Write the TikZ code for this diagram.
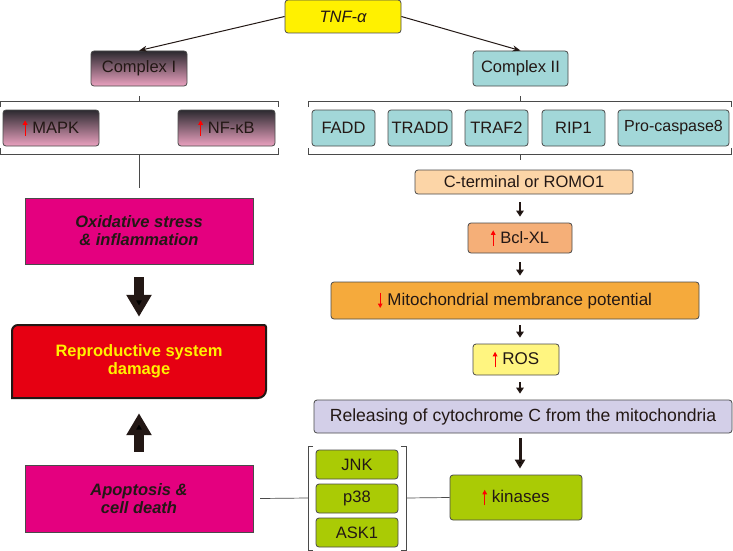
\documentclass[tikz,border=0pt]{standalone}
\usepackage{fontspec}
\setmainfont{Liberation Sans}
\usetikzlibrary{arrows.meta}
\definecolor{txt}{HTML}{231815}
\definecolor{bord}{HTML}{4A4A4A}
\definecolor{tnfy}{HTML}{FFF100}
\definecolor{teal}{HTML}{A2D7D8}
\definecolor{gtop}{HTML}{2C2A30}
\definecolor{gbot}{HTML}{EBA2C0}
\definecolor{mag}{HTML}{E4007F}
\definecolor{repred}{HTML}{E60012}
\definecolor{cterm}{HTML}{FCD5A7}
\definecolor{bcl}{HTML}{F5AF78}
\definecolor{mito}{HTML}{F5AA3C}
\definecolor{ros}{HTML}{FFF580}
\definecolor{rel}{HTML}{D3CFE8}
\definecolor{grn}{HTML}{AACB05}
\newcommand{\fs}{\fontsize{16.5}{18}\selectfont}
\newcommand{\upr}{\tikz[baseline=0pt]\draw[red,line width=1.1pt,-{Triangle[length=4.5pt,width=4.5pt]}] (0pt,-2.5pt)--(0pt,13pt);\hspace{5pt}}
\newcommand{\dnr}{\tikz[baseline=0pt]\draw[red,line width=1.1pt,-{Triangle[length=4.5pt,width=4.5pt]}] (0pt,13pt)--(0pt,-2.5pt);\hspace{5pt}}
\tikzset{
  box/.style={draw=bord, line width=0.8pt, rounded corners=3pt, inner sep=0pt, align=center, font=\fs, text=txt},
  grad/.style={box, top color=gtop, bottom color=gbot},
  tealbox/.style={box, fill=teal, minimum height=36pt},
  pinkbox/.style={box, rounded corners=0pt, fill=mag, minimum width=228pt, font=\fontsize{16.5}{18}\selectfont\bfseries\itshape},
  grnbox/.style={box, fill=grn, minimum width=82pt, minimum height=29pt},
  conn/.style={draw=bord, line width=0.7pt},
  smallarr/.style={draw=txt, line width=2pt, -{Triangle[length=6pt,width=7.5pt]}, shorten <=8pt, shorten >=6pt},
  bigarr/.style={draw=txt, line width=9.5pt, -{Triangle[length=22pt,width=24pt]}},
  tnfarr/.style={draw=txt, line width=1pt, -{Stealth[length=8pt,width=6pt]}}
}
\begin{document}
\begin{tikzpicture}[x=1pt,y=-1pt]
\useasboundingbox[fill=white] (0,0) rectangle (733,551);
% top
\node[box, fill=tnfy, minimum width=116pt, minimum height=33pt, font=\fs\itshape] (tnf) at (343,16.5) {TNF-α};
\node[grad, minimum width=96pt, minimum height=35pt] (c1) at (139,68.5) {Complex I};
\node[tealbox, minimum width=95pt, minimum height=35pt] (c2) at (520.5,68.5) {Complex II};
\draw[tnfarr] (tnf.west) -- (c1.north);
\draw[tnfarr] (tnf.east) -- (c2.north);
% complex I members
\node[grad, minimum width=96pt, minimum height=36pt] (mapk) at (51,128) {\upr MAPK};
\node[grad, minimum width=97pt, minimum height=36pt] (nfkb) at (226.5,128) {\upr NF-κB};
% complex II members
\node[tealbox, minimum width=63pt] (fadd) at (343.5,128) {FADD};
\node[tealbox, minimum width=64pt] (tradd) at (420,128) {TRADD};
\node[tealbox, minimum width=63pt] (traf) at (496.5,128) {TRAF2};
\node[tealbox, minimum width=63pt] (rip) at (573.5,128) {RIP1};
\node[tealbox, minimum width=111pt, font=\fontsize{16}{18}\selectfont] (pro) at (673.5,128) {Pro-caspase8};
% brackets
\coordinate (b1t) at (139,101);
\coordinate (b1b) at (139,154);
\coordinate (b2t) at (520.5,101);
\coordinate (b2b) at (520.5,154);
\draw[conn] (0.6,107) -- (0.6,101) -- (278,101) -- (278,107);
\draw[conn] (0.6,148) -- (0.6,154) -- (278,154) -- (278,148);
\draw[conn] (308,107) -- (308,101) -- (731,101) -- (731,107);
\draw[conn] (308,148) -- (308,154) -- (731,154) -- (731,148);
\draw[conn, shorten <=10pt] (c1.south) -- (b1t);
\draw[conn, shorten <=10pt] (c2.south) -- (b2t);
% right chain
\node[box, fill=cterm, minimum width=218pt, minimum height=24pt] (ct) at (524,182) {C-terminal or ROMO1};
\draw[conn, shorten >=10pt] (b2b) -- (b2b |- ct.north);
\node[box, fill=bcl, minimum width=104pt, minimum height=30pt] (bcl) at (520,238) {\upr Bcl-XL};
\node[box, fill=mito, minimum width=368pt, minimum height=37pt, font=\fontsize{17}{18}\selectfont] (mito) at (515,300.5) {\dnr Mitochondrial membrance potential};
\node[box, fill=ros, minimum width=86pt, minimum height=31pt, font=\fontsize{17}{18}\selectfont] (ros) at (516,359.5) {\upr ROS};
\node[box, fill=rel, minimum width=418pt, minimum height=33pt, font=\fontsize{17.6}{18}\selectfont] (rel) at (523,416.5) {Releasing of cytochrome C from the mitochondria};
\node[box, fill=grn, minimum width=132pt, minimum height=45pt, font=\fontsize{17}{18}\selectfont] (kin) at (516,497.5) {\upr kinases};
\draw[smallarr] (ct.south -| 520,0) -- (bcl.north -| 520,0);
\draw[smallarr, shorten <=9pt] (bcl.south -| 520,0) -- (mito.north -| 520,0);
\draw[smallarr, shorten <=6pt] (mito.south -| 520,0) -- (ros.north -| 520,0);
\draw[smallarr, shorten <=7pt] (ros.south -| 520,0) -- (rel.north -| 520,0);
\draw[draw=txt, line width=3pt, -{Triangle[length=9pt,width=10pt]}, shorten <=5pt, shorten >=6pt] (rel.south -| 520,0) -- (kin.north -| 520,0);
% kinases group
\node[grnbox] (jnk) at (357,464.5) {JNK};
\node[grnbox] (p38) at (357,498.5) {p38};
\node[grnbox] (ask) at (357,532.5) {ASK1};
\draw[conn] (313,446) -- (308,446) -- (308,550) -- (313,550);
\draw[conn] (401,446) -- (406,446) -- (406,550) -- (401,550);
\coordinate (bl) at (308,498);
\coordinate (br) at (406,498);
% left column
\node[pinkbox, minimum height=66pt] (oxi) at (139,231) {Oxidative stress\\\& inflammation};
\draw[conn, shorten >=10pt] (b1b) -- (oxi.north);
\draw[fill=repred, draw=txt, line width=2pt] (12,361) [rounded corners=6pt] -- (12,325) [rounded corners=2pt] -- (266,325) [rounded corners=8pt] -- (266,398) [sharp corners] -- (12,398) -- cycle;
\node[inner sep=0pt, minimum width=254pt, minimum height=73pt, align=center, font=\fontsize{16.5}{18}\selectfont\bfseries, text=tnfy] (rep) at (139,361.5) {Reproductive system\\damage};
\node[pinkbox, minimum height=67pt] (apo) at (139,498.5) {Apoptosis \&\\cell death};
\draw[bigarr, shorten <=13pt, shorten >=8pt] (oxi.south) -- (rep.north);
\draw[bigarr, shorten <=13pt, shorten >=15pt] (apo.north) -- (rep.south);
\draw[conn] (apo.east -| 260,0) -- (bl);
\draw[conn] (br) -- (kin.west);
\end{tikzpicture}
\end{document}
